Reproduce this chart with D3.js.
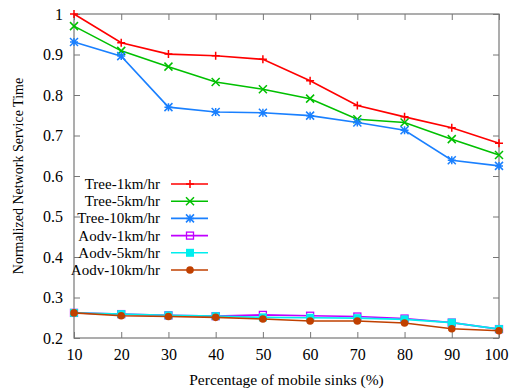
<!DOCTYPE html>
<html>
<head>
<meta charset="utf-8">
<script src="https://cdn.jsdelivr.net/npm/d3@7"></script>
<style>
  body { margin: 0; background: #fff; }
  text { font-family: "Liberation Serif", "DejaVu Serif", serif; }
</style>
</head>
<body>
<script>
// chart size and plot margins
const width = 509, height = 389;
const margin = { top: 14, right: 10, bottom: 51, left: 74 };

// data
const sinks = [10, 20, 30, 40, 50, 60, 70, 80, 90, 100];
const tree1 = [1.0, 0.929, 0.901, 0.897, 0.888, 0.835, 0.774, 0.746, 0.719, 0.681];
const tree5 = [0.970, 0.909, 0.870, 0.832, 0.814, 0.791, 0.740, 0.732, 0.691, 0.652];
const tree10 = [0.931, 0.896, 0.770, 0.758, 0.756, 0.749, 0.732, 0.713, 0.639, 0.625];
const aodv1 = [0.262, 0.259, 0.256, 0.254, 0.257, 0.255, 0.253, 0.248, 0.238, 0.222];
const aodv5 = [0.262, 0.259, 0.256, 0.254, 0.251, 0.250, 0.249, 0.246, 0.238, 0.222];
const aodv10 = [0.262, 0.255, 0.253, 0.251, 0.247, 0.242, 0.242, 0.237, 0.223, 0.218];
const yTicks = [0.2, 0.3, 0.4, 0.5, 0.6, 0.7, 0.8, 0.9, 1];

const series = [
  { name: "Tree-1km/hr", values: tree1, color: "#ff0000", marker: "plus" },
  { name: "Tree-5km/hr", values: tree5, color: "#00c000", marker: "cross" },
  { name: "Tree-10km/hr", values: tree10, color: "#1a80ff", marker: "star" },
  { name: "Aodv-1km/hr", values: aodv1, color: "#c000ff", marker: "openSquare" },
  { name: "Aodv-5km/hr", values: aodv5, color: "#00eeee", marker: "square" },
  { name: "Aodv-10km/hr", values: aodv10, color: "#c04000", marker: "circle" }
];

const svg = d3.select("body").append("svg")
  .attr("width", width)
  .attr("height", height);

const x = d3.scaleLinear().domain([10, 100]).range([margin.left, width - margin.right]);
const y = d3.scaleLinear().domain([0.2, 1]).range([height - margin.bottom, margin.top]);

const frameColor = "#777";

// frame box
svg.append("rect")
  .attr("x", x(10)).attr("y", y(1))
  .attr("width", x(100) - x(10)).attr("height", y(0.2) - y(1))
  .attr("fill", "none").attr("stroke", frameColor).attr("stroke-width", 1.2);

// axes with inward ticks on every side (gnuplot look)
const fmt = d => d === 1 ? "1" : d3.format(".1f")(d);
const axisStyle = g => {
  g.select(".domain").remove();
  g.selectAll(".tick line").attr("stroke", frameColor);
  g.selectAll(".tick text").attr("fill", "#000").style("font-size", "16px")
    .style("font-family", "Liberation Serif, serif");
};

svg.append("g")
  .attr("transform", `translate(0,${y(0.2)})`)
  .call(d3.axisBottom(x).tickValues(sinks).tickSize(-6).tickPadding(11))
  .call(axisStyle)
  // keep the last label inside the window
  .selectAll(".tick text").filter(d => d === 100).attr("dx", -3);
svg.append("g")
  .attr("transform", `translate(0,${y(1)})`)
  .call(d3.axisTop(x).tickValues(sinks).tickSize(-6).tickFormat(""))
  .call(axisStyle);
svg.append("g")
  .attr("transform", `translate(${x(10)},0)`)
  .call(d3.axisLeft(y).tickValues(yTicks).tickSize(-6).tickPadding(11).tickFormat(fmt))
  .call(axisStyle);
svg.append("g")
  .attr("transform", `translate(${x(100)},0)`)
  .call(d3.axisRight(y).tickValues(yTicks).tickSize(-6).tickFormat(""))
  .call(axisStyle);

// axis titles
svg.append("text")
  .attr("x", (x(10) + x(100)) / 2).attr("y", 385)
  .attr("text-anchor", "middle").style("font-size", "15.5px")
  .text("Percentage of mobile sinks (%)");
svg.append("text")
  .attr("transform", `translate(23,${(y(0.2) + y(1)) / 2}) rotate(-90)`)
  .attr("text-anchor", "middle").style("font-size", "14px")
  .text("Normalized Network Service Time");

// marker drawing
function drawMarker(g, type, color) {
  const s = 4;
  if (type === "plus") {
    g.append("path").attr("d", `M${-s},0H${s}M0,${-s}V${s}`).attr("stroke", color).attr("stroke-width", 1.5);
  } else if (type === "cross") {
    g.append("path").attr("d", `M${-s},${-s}L${s},${s}M${-s},${s}L${s},${-s}`).attr("stroke", color).attr("stroke-width", 1.5);
  } else if (type === "star") {
    g.append("path").attr("d", `M${-s},0H${s}M0,${-s}V${s}M${-s},${-s}L${s},${s}M${-s},${s}L${s},${-s}`).attr("stroke", color).attr("stroke-width", 1.5);
  } else if (type === "openSquare") {
    g.append("rect").attr("x", -3.5).attr("y", -3.5).attr("width", 7).attr("height", 7)
      .attr("fill", "none").attr("stroke", color).attr("stroke-width", 1.3);
  } else if (type === "square") {
    g.append("rect").attr("x", -4).attr("y", -4).attr("width", 8).attr("height", 8).attr("fill", color);
  } else if (type === "circle") {
    g.append("circle").attr("r", 3.8).attr("fill", color);
  }
}

const line = d3.line().x((d, i) => x(sinks[i])).y(d => y(d));

series.forEach(s => {
  const g = svg.append("g");
  g.append("path")
    .datum(s.values)
    .attr("d", line)
    .attr("fill", "none")
    .attr("stroke", s.color)
    .attr("stroke-width", 1.6);
  s.values.forEach((v, i) => {
    drawMarker(g.append("g").attr("transform", `translate(${x(sinks[i])},${y(v)})`), s.marker, s.color);
  });
});

// legend
const legend = svg.append("g");
series.forEach((s, i) => {
  const ly = 184 + i * 17.2;
  legend.append("text")
    .attr("x", 160).attr("y", ly + 5)
    .attr("text-anchor", "end").style("font-size", "15px")
    .text(s.name);
  legend.append("line")
    .attr("x1", 171).attr("x2", 208).attr("y1", ly).attr("y2", ly)
    .attr("stroke", s.color).attr("stroke-width", 1.6);
  drawMarker(legend.append("g").attr("transform", `translate(190,${ly})`), s.marker, s.color);
});
</script>
</body>
</html>
